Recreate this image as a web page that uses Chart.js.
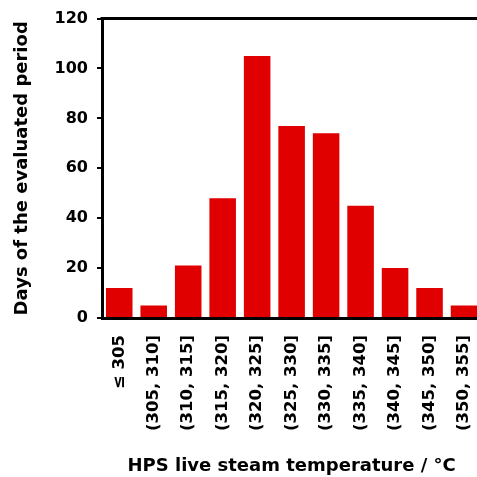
<!DOCTYPE html>
<html><head><meta charset="utf-8">
<script src="https://cdn.jsdelivr.net/npm/chart.js@4/dist/chart.umd.min.js"></script>
<style>html,body{margin:0;padding:0;overflow:hidden;background:#fff}#wrap{width:501px;height:477px;position:relative}</style>
</head><body><div id="wrap"><canvas id="c"></canvas></div>
<script>
const categories = ['≤ 305','(305, 310]','(310, 315]','(315, 320]','(320, 325]','(325, 330]','(330, 335]','(335, 340]','(340, 345]','(345, 350]','(350, 355]'];
const days = [12, 5, 21, 48, 105, 77, 74, 45, 20, 12, 5];
const yTicks = [0, 20, 40, 60, 80, 100, 120];
const xTitle = 'HPS live steam temperature / °C';
const yTitle = 'Days of the evaluated period';

const FONT = 'DejaVu Sans';
const topBorder = {
  id: 'topBorder',
  afterDraw(chart) {
    const {ctx, chartArea} = chart;
    ctx.save();
    ctx.strokeStyle = '#000';
    ctx.lineWidth = 3;
    ctx.beginPath();
    ctx.moveTo(chartArea.left - 1.5, chartArea.top);
    ctx.lineTo(chart.width, chartArea.top);
    ctx.stroke();
    ctx.restore();
  }
};

new Chart(document.getElementById('c'), {
  type: 'bar',
  data: { labels: categories, datasets: [{ data: days, backgroundColor: '#e00000', borderWidth: 0, barPercentage: 0.77, categoryPercentage: 1 }] },
  options: {
    responsive: true, maintainAspectRatio: false, animation: false,
    layout: { padding: { top: 16, right: 4, left: 0, bottom: 0 } },
    plugins: { legend: { display: false }, tooltip: { enabled: false } },
    scales: {
      x: {
        afterFit(s) { s.height = 159; },
        grid: { display: true, drawOnChartArea: false, drawTicks: false },
        border: { display: true, color: '#000', width: 3 },
        ticks: { color: '#000', minRotation: 90, maxRotation: 90, padding: 17, autoSkip: false, font: { family: FONT, size: 16.5, weight: 'bold' } },
        title: { display: true, text: xTitle, color: '#000', font: { family: FONT, size: 18, weight: 'bold' }, padding: { top: 0, bottom: 0 } }
      },
      y: {
        min: 0, max: 120,
        afterFit(s) { s.width = 102; },
        afterBuildTicks(s) { s.ticks = yTicks.map(v => ({ value: v })); },
        grid: { display: true, drawOnChartArea: false, drawTicks: true, tickLength: 5, color: '#000', lineWidth: 2 },
        border: { display: true, color: '#000', width: 3 },
        ticks: { color: '#000', padding: 9, font: { family: FONT, size: 16, weight: 'bold' } },
        title: { display: true, text: yTitle, color: '#000', font: { family: FONT, size: 18, weight: 'bold' }, padding: { top: 12, bottom: 0 } }
      }
    }
  },
  plugins: [topBorder]
});
</script></body></html>
